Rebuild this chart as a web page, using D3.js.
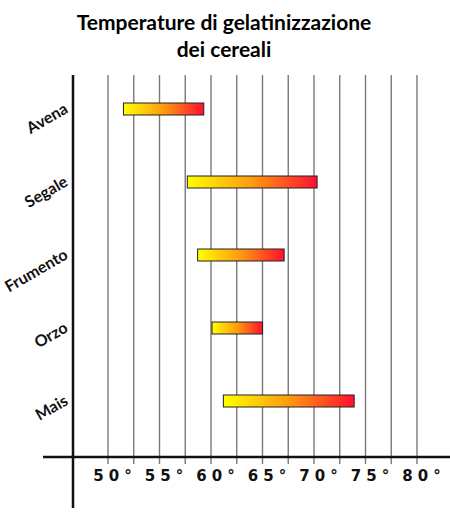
<!DOCTYPE html>
<html>
<head>
<meta charset="utf-8">
<script src="https://cdn.jsdelivr.net/npm/d3@7"></script>
<style>
  body { margin: 0; background: #fff; }
  svg { display: block; }
</style>
</head>
<body>
<svg id="chart" width="450" height="514"></svg>
<script>
// cereali e intervallo di gelatinizzazione (°C)
var cereals = ["Avena", "Segale", "Frumento", "Orzo", "Mais"];
var tempStart = [51.5, 57.7, 58.7, 60.1, 61.2];
var tempEnd = [59.3, 70.3, 67.1, 65.0, 73.9];
var tickLabels = [50, 55, 60, 65, 70, 75, 80];
var titleLines = ["Temperature di gelatinizzazione", "dei cereali"];

var svg = d3.select("#chart");

var x = d3.scaleLinear().domain([50, 80]).range([108, 417]);
var y = d3.scalePoint().domain(cereals).range([109, 401]);

// gradient giallo -> rosso
var grad = svg.append("defs").append("linearGradient")
    .attr("id", "barGrad")
    .attr("x1", "0%").attr("x2", "100%")
    .attr("y1", "0%").attr("y2", "0%");
grad.append("stop").attr("offset", "0%").attr("stop-color", "#ffff00");
grad.append("stop").attr("offset", "50%").attr("stop-color", "#ff9a10");
grad.append("stop").attr("offset", "100%").attr("stop-color", "#ff1030");

// titolo
svg.selectAll(".title")
    .data(titleLines)
    .enter().append("text")
    .attr("class", "title")
    .attr("x", 224)
    .attr("y", function (d, i) { return 30 + i * 27; })
    .attr("text-anchor", "middle")
    .attr("font-family", "Lato, sans-serif")
    .attr("font-weight", "bold")
    .attr("font-size", "21px")
    .attr("fill", "#000")
    .text(function (d) { return d; });

// griglia verticale ogni 2.5°
var gridVals = d3.range(50, 80.01, 2.5);
svg.selectAll(".grid")
    .data(gridVals)
    .enter().append("line")
    .attr("class", "grid")
    .attr("x1", function (d) { return x(d); })
    .attr("x2", function (d) { return x(d); })
    .attr("y1", 75)
    .attr("y2", 464)
    .attr("stroke", "#7a7a7a")
    .attr("stroke-width", 1.4);

// assi
svg.append("line")
    .attr("x1", 43).attr("x2", 450)
    .attr("y1", 457).attr("y2", 457)
    .attr("stroke", "#111").attr("stroke-width", 2.5);
svg.append("line")
    .attr("x1", 73).attr("x2", 73)
    .attr("y1", 75).attr("y2", 508)
    .attr("stroke", "#111").attr("stroke-width", 2.5);

// etichette asse x
svg.selectAll(".xlab")
    .data(tickLabels)
    .enter().append("text")
    .attr("class", "xlab")
    .attr("x", function (d) { return x(d) + 7; })
    .attr("y", 481)
    .attr("text-anchor", "middle")
    .attr("font-family", "DejaVu Sans, sans-serif")
    .attr("font-weight", "bold")
    .attr("font-size", "15px")
    .attr("letter-spacing", "5px")
    .attr("fill", "#111")
    .text(function (d) { return d + "°"; });

// etichette cereali ruotate
svg.selectAll(".ylab")
    .data(cereals)
    .enter().append("text")
    .attr("class", "ylab")
    .attr("transform", function (d) { return "translate(69," + (y(d) + 3) + ") rotate(-30)"; })
    .attr("text-anchor", "end")
    .attr("font-family", "Lato, sans-serif")
    .attr("font-weight", "bold")
    .attr("font-size", "16px")
    .attr("fill", "#111")
    .text(function (d) { return d; });

// barre
svg.selectAll(".bar")
    .data(cereals)
    .enter().append("rect")
    .attr("class", "bar")
    .attr("x", function (d, i) { return x(tempStart[i]); })
    .attr("y", function (d) { return y(d) - 6; })
    .attr("width", function (d, i) { return x(tempEnd[i]) - x(tempStart[i]); })
    .attr("height", 12)
    .attr("fill", "url(#barGrad)")
    .attr("stroke", "#222")
    .attr("stroke-width", 1);
</script>
</body>
</html>
